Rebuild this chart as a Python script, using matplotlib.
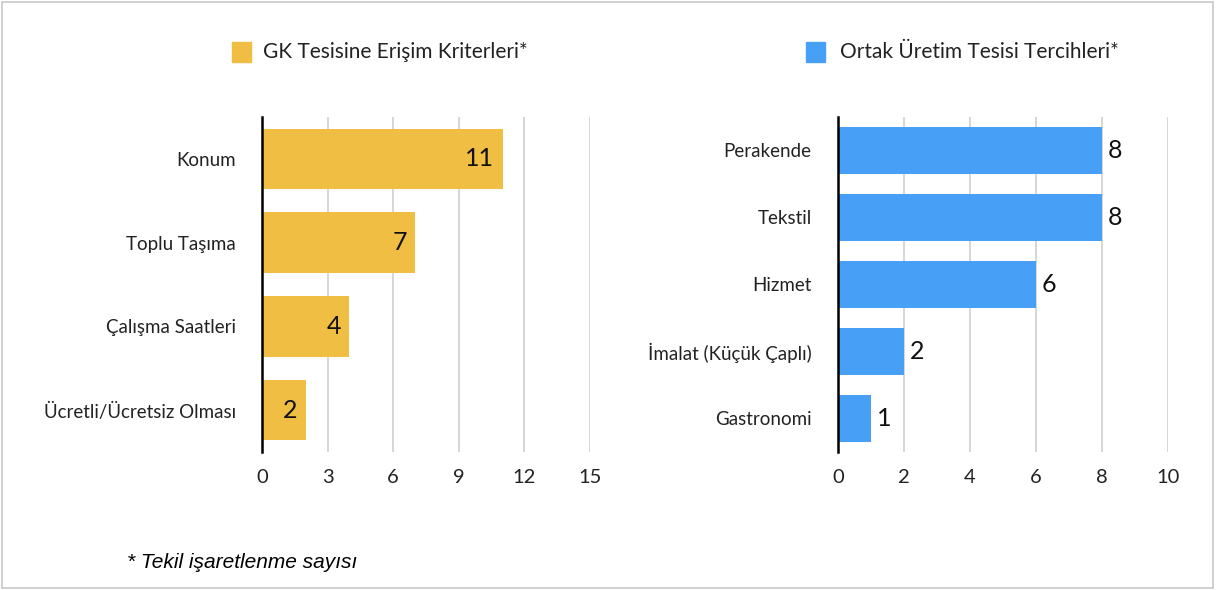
import matplotlib.pyplot as plt
from matplotlib.patches import Rectangle

plt.rcParams['font.family'] = ['Lato', 'DejaVu Sans']

# left panel data
gk_labels = ['Konum', 'Toplu Taşıma', 'Çalışma Saatleri', 'Ücretli/Ücretsiz Olması']
gk_values = [11, 7, 4, 2]
gk_ticks = [0, 3, 6, 9, 12, 15]

# right panel data
ortak_labels = ['Perakende', 'Tekstil', 'Hizmet', 'İmalat (Küçük Çaplı)', 'Gastronomi']
ortak_values = [8, 8, 6, 2, 1]
ortak_ticks = [0, 2, 4, 6, 8, 10]

yellow = '#EFBE42'
blue = '#489FF6'

fig = plt.figure(figsize=(12.17, 5.90), dpi=100)
fig.patches.append(Rectangle((0.002, 0.004), 0.995, 0.992, transform=fig.transFigure,
                             fill=False, edgecolor='#c8c8c8', linewidth=1.2))


def style_axis(ax, labels, ticks, xmax):
    n = len(labels)
    ax.set_ylim(n - 0.5, -0.5)
    ax.set_xlim(0, xmax)
    ax.set_yticks(range(n))
    ax.set_yticklabels(labels, fontsize=13.5, color='#222222')
    ax.set_xticks(ticks)
    ax.set_xticklabels([str(t) for t in ticks], fontsize=14.5, color='#222222')
    ax.tick_params(axis='both', length=0)
    ax.tick_params(axis='y', pad=19)
    ax.tick_params(axis='x', pad=12)
    for s in ['top', 'right', 'bottom']:
        ax.spines[s].set_visible(False)
    ax.spines['left'].set_color('black')
    ax.spines['left'].set_linewidth(1.8)
    ax.spines['left'].set_zorder(4)
    ax.grid(axis='x', color='#d0d0d0', linewidth=1.2)
    ax.set_axisbelow(True)


ax1 = fig.add_axes([0.2153, 0.2339, 0.2695, 0.5678])
ax1.barh(range(len(gk_values)), gk_values, height=0.72, color=yellow, zorder=2)
style_axis(ax1, gk_labels, gk_ticks, 15)
for i, v in enumerate(gk_values):
    ax1.annotate(str(v), (v, i), xytext=(-6, 0), textcoords='offset points',
                 ha='right', va='center', fontsize=18, color='#111111', zorder=5)

ax2 = fig.add_axes([0.6886, 0.2339, 0.2712, 0.5678])
ax2.barh(range(len(ortak_values)), ortak_values, height=0.71, color=blue, zorder=2)
style_axis(ax2, ortak_labels, ortak_ticks, 10)
for i, v in enumerate(ortak_values):
    ax2.annotate(str(v), (v, i), xytext=(4, 0), textcoords='offset points',
                 ha='left', va='center', fontsize=18, color='#111111', zorder=5)

# legends drawn as figure-level squares + text
fig.patches.append(Rectangle((232 / 1217, 1 - 62 / 590), 19 / 1217, 20 / 590,
                             transform=fig.transFigure, color=yellow))
fig.text(263 / 1217, 1 - 52 / 590, 'GK Tesisine Erişim Kriterleri*', fontsize=15,
         va='center', ha='left', color='#222222')
fig.patches.append(Rectangle((806 / 1217, 1 - 62 / 590), 19 / 1217, 20 / 590,
                             transform=fig.transFigure, color=blue))
fig.text(840 / 1217, 1 - 52 / 590, 'Ortak Üretim Tesisi Tercihleri*', fontsize=15,
         va='center', ha='left', color='#222222')

fig.text(127 / 1217, 1 - 562 / 590, '* Tekil işaretlenme sayısı', fontsize=15,
         style='italic', family=['Liberation Sans', 'DejaVu Sans'],
         va='center', ha='left', color='black')

fig.savefig('out.png', dpi=100)
